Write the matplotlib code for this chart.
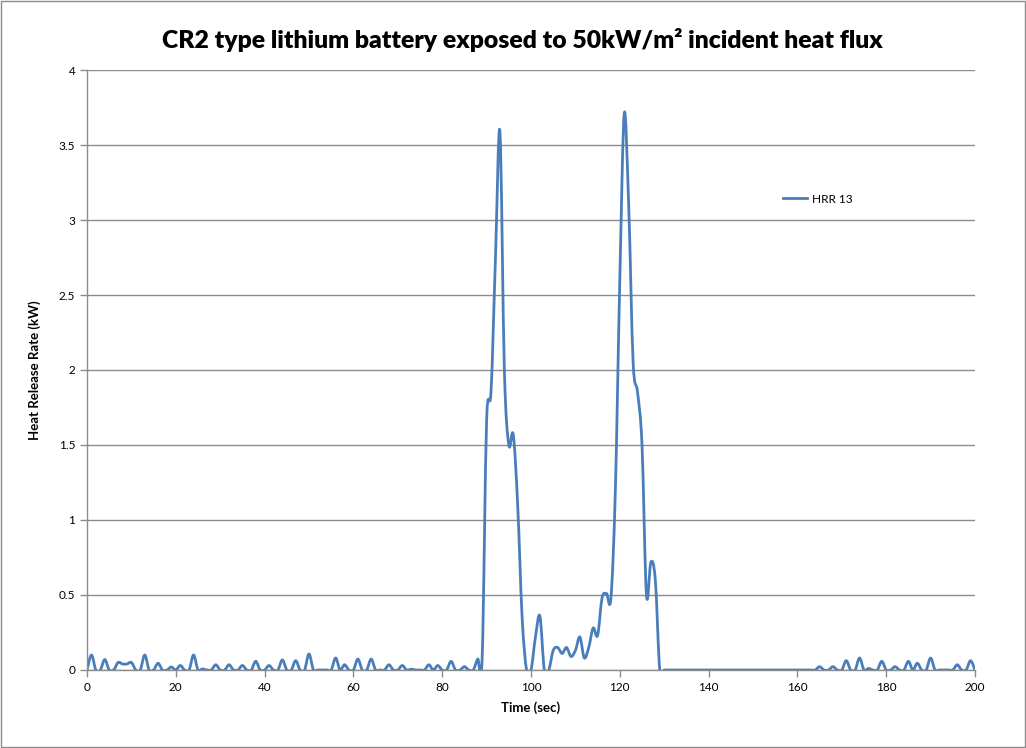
import numpy as np
import matplotlib
matplotlib.use("Agg")
import matplotlib.pyplot as plt
from matplotlib.path import Path
from matplotlib.patches import PathPatch, Rectangle

# =============================================================================
# DATA (1 s steps)
# =============================================================================

time_s = list(range(0, 201))

hrr_kw = [0.0] * 201

# small baseline noise before ignition
noise_pts = {
    1: 0.10, 4: 0.07, 7: 0.05, 8: 0.04, 9: 0.04, 10: 0.05, 13: 0.10,
    16: 0.045, 19: 0.02, 21: 0.03, 24: 0.10, 26: 0.007, 29: 0.035,
    32: 0.035, 35: 0.03, 38: 0.058, 41: 0.03, 44: 0.067, 47: 0.062,
    50: 0.107, 56: 0.08, 58: 0.035, 61: 0.073, 64: 0.073, 68: 0.035,
    71: 0.03, 73: 0.005, 77: 0.035, 79: 0.03, 82: 0.058, 85: 0.022,
    88: 0.073, 89: 0.08,
}

# the two burning events
burn_pts = {
    90: 1.66, 91: 1.86, 92: 2.75, 93: 3.59, 94: 2.0, 95: 1.5, 96: 1.57,
    97: 1.1, 98: 0.35, 99: 0.0, 100: 0.0, 101: 0.22, 102: 0.36, 103: 0.0,
    104: 0.0, 105: 0.13, 106: 0.15, 107: 0.11, 108: 0.15, 109: 0.09,
    110: 0.13, 111: 0.22, 112: 0.08, 113: 0.15, 114: 0.28, 115: 0.23,
    116: 0.48, 117: 0.51, 118: 0.48, 119: 1.2, 120: 2.6, 121: 3.71,
    122: 3.1, 123: 2.05, 124: 1.85, 125: 1.5, 126: 0.5, 127: 0.72,
    128: 0.6, 129: 0.0,
}

# noise after the cell has burnt out
tail_pts = {
    165: 0.022, 168: 0.022, 171: 0.062, 174: 0.08, 176: 0.01, 179: 0.058,
    182: 0.022, 185: 0.058, 187: 0.045, 190: 0.08, 196: 0.035, 199: 0.062,
}

for pts in (noise_pts, burn_pts, tail_pts):
    for t, v in pts.items():
        hrr_kw[t] = v

x_ticks = list(range(0, 201, 20))
y_ticks = [0, 0.5, 1, 1.5, 2, 2.5, 3, 3.5, 4]

LINE_COLOR = "#4A7EBB"
GRID_COLOR = "#8C8C8C"
FONT = ["Lato", "DejaVu Sans"]


# =============================================================================
# HELPERS
# =============================================================================

def smooth_path(x, y):
    """
    Excel-style smoothed line: cubic Bezier through every point,
    control points from the neighbouring points (Catmull-Rom).
    """
    x = np.asarray(x, dtype=float)
    y = np.asarray(y, dtype=float)
    n = len(x)

    verts = [(x[0], y[0])]
    codes = [Path.MOVETO]

    for i in range(n - 1):
        i0 = max(i - 1, 0)
        i3 = min(i + 2, n - 1)
        c1 = (x[i] + (x[i + 1] - x[i0]) / 6.0, y[i] + (y[i + 1] - y[i0]) / 6.0)
        c2 = (x[i + 1] - (x[i3] - x[i]) / 6.0, y[i + 1] - (y[i3] - y[i]) / 6.0)
        verts += [c1, c2, (x[i + 1], y[i + 1])]
        codes += [Path.CURVE4, Path.CURVE4, Path.CURVE4]

    return Path(verts, codes)


# =============================================================================
# PLOT
# =============================================================================

plt.rcParams["font.family"] = FONT

fig = plt.figure(figsize=(10.26, 7.48), dpi=100)
ax = fig.add_axes([0.0848, 0.1043, 0.8655, 0.8021])

patch = PathPatch(
    smooth_path(time_s, hrr_kw),
    facecolor="none",
    edgecolor=LINE_COLOR,
    linewidth=2.0,
    joinstyle="round",
    capstyle="round",
)
ax.add_patch(patch)

# proxy for the legend entry
ax.plot([], [], color=LINE_COLOR, linewidth=2.0, label="HRR 13")

ax.set_xlim(0, 200)
ax.set_ylim(0, 4)
ax.set_xticks(x_ticks)
ax.set_yticks(y_ticks)
ax.set_xticklabels([str(v) for v in x_ticks])
ax.set_yticklabels([f"{v:g}" for v in y_ticks])

ax.grid(True, axis="y", color=GRID_COLOR, linewidth=1.0)
ax.set_axisbelow(True)

for side in ("top", "right"):
    ax.spines[side].set_visible(False)
for side in ("left", "bottom"):
    ax.spines[side].set_color(GRID_COLOR)
    ax.spines[side].set_linewidth(1.0)

ax.tick_params(axis="both", direction="out", length=5, width=1,
               color=GRID_COLOR, labelsize=8.5, labelcolor="black")

ax.set_xlabel("Time (sec)", fontsize=9.5, fontweight="bold", labelpad=6)
ax.set_ylabel("Heat Release Rate (kW)", fontsize=9.5, fontweight="bold", labelpad=13)

fig.text(0.5095, 0.947, "CR2 type lithium battery exposed to 50kW/m² incident heat flux",
         ha="center", va="center", fontsize=17.8, fontweight="heavy")

ax.legend(loc="center left", bbox_to_anchor=(0.772, 0.785), frameon=False,
          fontsize=8.5, handlelength=2.0, handletextpad=0.4)

# chart area border
fig.add_artist(Rectangle((0.001, 0.001), 0.998, 0.998, transform=fig.transFigure,
                         fill=False, edgecolor="#8C8C8C", linewidth=1.0))

fig.savefig("out.png", dpi=100)
